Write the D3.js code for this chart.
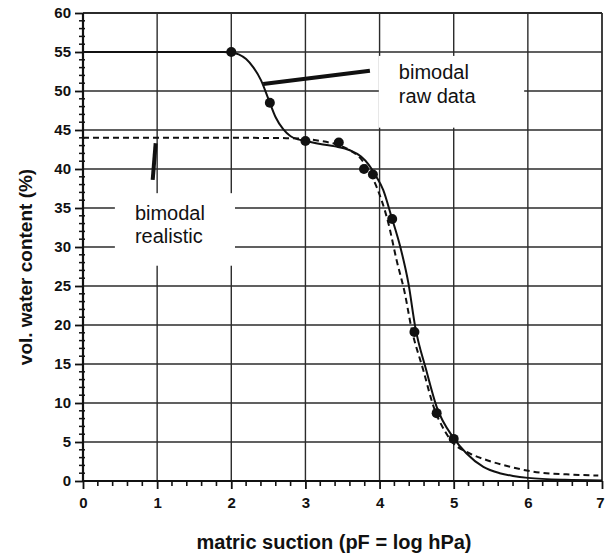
<!DOCTYPE html>
<html>
<head>
<meta charset="utf-8">
<script src="https://cdn.jsdelivr.net/npm/d3@7/dist/d3.min.js"></script>
<style>
  html, body { margin: 0; padding: 0; background: #fff; }
  svg { display: block; }
  text { font-family: "Liberation Sans", Arial, Helvetica, sans-serif; }
</style>
</head>
<body>
<svg id="chart" width="605" height="558"></svg>
<script>
// ---- data ----
const xTicks = [0, 1, 2, 3, 4, 5, 6, 7];
const yTicks = [0, 5, 10, 15, 20, 25, 30, 35, 40, 45, 50, 55, 60];

// measured points (pF, vol. water content %)
const measX = [2.0, 2.52, 3.0, 3.45, 3.79, 3.91, 4.17, 4.47, 4.77, 5.0];
const measY = [55.0, 48.5, 43.6, 43.4, 40.0, 39.3, 33.6, 19.1, 8.7, 5.4];

// bimodal raw data fit (solid)
const rawX = [0, 1.0, 1.9, 2.0, 2.1, 2.2, 2.3, 2.4, 2.5, 2.6, 2.7, 2.8, 2.9, 3.0, 3.2, 3.4, 3.6, 3.75, 3.85, 3.95, 4.05, 4.16, 4.28, 4.39, 4.48, 4.63, 4.77, 5.0, 5.17, 5.4, 5.62, 5.8, 6.0, 6.5, 7.0];
const rawY = [55, 55, 55, 54.95, 54.7, 54.1, 53.0, 51.4, 49.0, 46.6, 45.1, 44.2, 43.8, 43.6, 43.2, 42.9, 42.4, 41.6, 40.6, 39.1, 37.3, 33.9, 30.0, 25.3, 19.8, 14.2, 9.5, 5.5, 3.55, 1.8, 1.0, 0.65, 0.4, 0.15, 0.08];

// bimodal realistic fit (dashed)
const realX = [0, 1.0, 2.0, 2.8, 3.0, 3.2, 3.4, 3.6, 3.75, 3.85, 3.96, 4.12, 4.23, 4.34, 4.43, 4.59, 4.73, 4.88, 5.0, 5.17, 5.44, 5.76, 6.07, 6.52, 6.95];
const realY = [44.0, 44.0, 44.0, 43.95, 43.85, 43.6, 43.2, 42.4, 41.3, 39.9, 37.7, 33.0, 28.3, 24.1, 19.6, 14.2, 9.5, 6.4, 4.8, 3.75, 2.7, 1.83, 1.2, 0.85, 0.7];

// annotations (data units)
const annText = [["bimodal", "raw data"], ["bimodal", "realistic"]];
const annBoxX0 = [3.99, 0.43], annBoxX1 = [5.95, 2.05];
const annBoxY0 = [54.5, 36.9], annBoxY1 = [45.3, 27.6];
const annTextX = [4.26, 0.70], annTextY = [51.5, 33.5];
const ptrX0 = [2.43, 0.94], ptrY0 = [50.9, 38.6];
const ptrX1 = [3.87, 0.98], ptrY1 = [52.6, 43.3];

// ---- layout ----
const W = 605;
const svg = d3.select("#chart");
const x = d3.scaleLinear().domain([0, 7]).range([83, 602]);
const y = d3.scaleLinear().domain([0, 60]).range([481, 13]);
const ink = "#111";
const gridC = "#2b2b2b";

// grid
svg.append("g").selectAll("line").data(xTicks.slice(1)).join("line")
  .attr("x1", d => x(d)).attr("x2", d => x(d))
  .attr("y1", y(0)).attr("y2", y(60))
  .attr("stroke", gridC).attr("stroke-width", d => d === 7 ? 1.8 : 1.4);
svg.append("g").selectAll("line").data(yTicks.slice(1)).join("line")
  .attr("x1", x(0)).attr("x2", x(7))
  .attr("y1", d => y(d)).attr("y2", d => y(d))
  .attr("stroke", gridC).attr("stroke-width", d => d === 60 ? 1.8 : 1.4);

// minor ticks
const xMinor = d3.range(0, 7.001, 0.2).filter(v => Math.abs(v - Math.round(v)) > 1e-6);
const yMinor = d3.range(0, 60.001, 1).filter(v => v % 5 !== 0);
svg.append("g").selectAll("line").data(xMinor).join("line")
  .attr("x1", d => x(d)).attr("x2", d => x(d))
  .attr("y1", y(0)).attr("y2", y(0) + 5)
  .attr("stroke", ink).attr("stroke-width", 1.6);
svg.append("g").selectAll("line").data(yMinor).join("line")
  .attr("x1", x(0) - 4).attr("x2", x(0) + 2)
  .attr("y1", d => y(d)).attr("y2", d => y(d))
  .attr("stroke", ink).attr("stroke-width", 1.5);

// axes
const xAxis = svg.append("g").attr("transform", `translate(0,${y(0)})`)
  .call(d3.axisBottom(x).tickValues(xTicks).tickSize(8).tickPadding(8).tickFormat(d3.format("d")));
const yAxis = svg.append("g").attr("transform", `translate(${x(0)},0)`)
  .call(d3.axisLeft(y).tickValues(yTicks).tickSize(8).tickPadding(4).tickFormat(d3.format("d")));
[xAxis, yAxis].forEach(g => {
  g.select(".domain").attr("stroke", ink).attr("stroke-width", 2.2);
  g.selectAll(".tick line").attr("stroke", ink).attr("stroke-width", 1.8);
  g.selectAll(".tick text").attr("fill", "#111").attr("font-size", 15).attr("font-weight", "bold")
    .attr("font-family", "'Liberation Sans', Arial, sans-serif");
});
xAxis.select(".domain").attr("d", `M${x(0)},0H${x(7)}`);
yAxis.select(".domain").attr("d", `M0,${y(0)}V${y(60)}`);
// keep the last x label inside the page edge
xAxis.selectAll(".tick text").filter(d => d === 7)
  .attr("text-anchor", "end").attr("x", W - 1 - x(7));

// annotation boxes (cover grid)
const boxes = svg.append("g");
annText.forEach((t, i) => {
  boxes.append("rect")
    .attr("x", x(annBoxX0[i])).attr("y", y(annBoxY0[i]))
    .attr("width", x(annBoxX1[i]) - x(annBoxX0[i]))
    .attr("height", y(annBoxY1[i]) - y(annBoxY0[i]))
    .attr("fill", "#fff");
  const tx = boxes.append("text")
    .attr("x", x(annTextX[i])).attr("y", y(annTextY[i]))
    .attr("font-size", 20).attr("fill", "#111");
  t.forEach((line, j) => {
    tx.append("tspan").attr("x", x(annTextX[i])).attr("dy", j === 0 ? 0 : 23.5).text(line);
  });
});

// curves
const line = d3.line().x(d => x(d[0])).y(d => y(d[1])).curve(d3.curveMonotoneX);
svg.append("path").datum(realX.map((v, i) => [v, realY[i]]))
  .attr("d", line).attr("fill", "none").attr("stroke", ink)
  .attr("stroke-width", 2).attr("stroke-dasharray", "6,4");
svg.append("path").datum(rawX.map((v, i) => [v, rawY[i]]))
  .attr("d", line).attr("fill", "none").attr("stroke", ink).attr("stroke-width", 2);

// pointer lines
svg.append("g").selectAll("line").data(ptrX0).join("line")
  .attr("x1", (d, i) => x(ptrX0[i])).attr("y1", (d, i) => y(ptrY0[i]))
  .attr("x2", (d, i) => x(ptrX1[i])).attr("y2", (d, i) => y(ptrY1[i]))
  .attr("stroke", ink).attr("stroke-width", 4);

// measured points
svg.append("g").selectAll("circle").data(measX).join("circle")
  .attr("cx", d => x(d)).attr("cy", (d, i) => y(measY[i])).attr("r", 5).attr("fill", ink);

// axis titles
svg.append("text").attr("x", 334).attr("y", 549).attr("text-anchor", "middle")
  .attr("font-size", 20).attr("font-weight", "bold").attr("fill", "#111")
  .text("matric suction (pF = log hPa)");
svg.append("text").attr("transform", "translate(32,267) rotate(-90)").attr("text-anchor", "middle")
  .attr("font-size", 19).attr("font-weight", "bold").attr("fill", "#111")
  .text("vol. water content (%)");
</script>
</body>
</html>
